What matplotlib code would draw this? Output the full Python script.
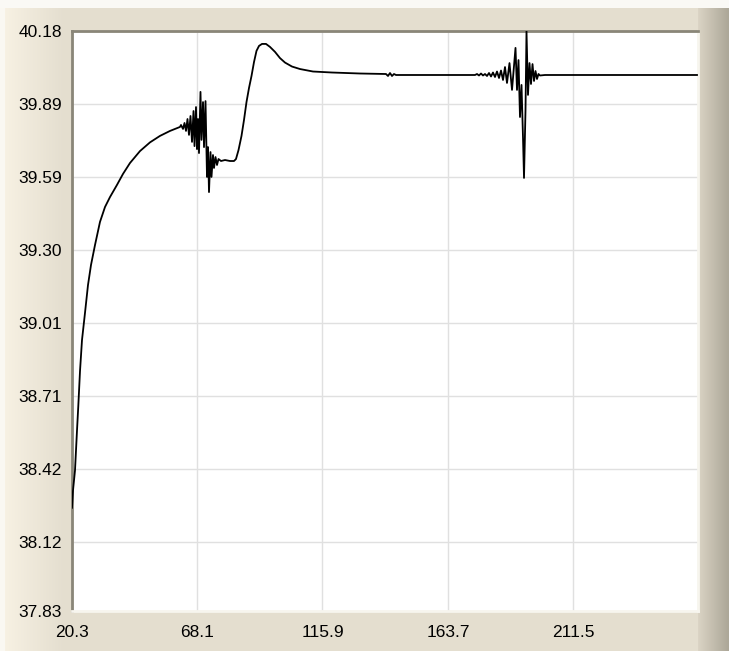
import numpy as np
import matplotlib
matplotlib.use('Agg')
import matplotlib.pyplot as plt


# values
time = [20.49, 20.87, 21.63, 22.39, 22.89, 23.54, 24.30, 25.44, 26.58, 27.73,
        29.25, 31.15, 33.06, 34.96, 37.63, 39.91, 42.58, 46.39, 50.20, 54.00,
        57.82, 61.62,
        62.01, 62.77, 63.34, 63.91, 64.48, 65.05, 65.62, 66.20, 66.77, 67.15,
        67.72, 68.10, 68.48, 68.86, 69.43, 69.81, 70.39, 70.77, 71.34, 71.91,
        72.29, 72.67, 73.24, 73.62, 74.19, 74.58, 75.15, 75.72, 76.29, 77.24,
        78.77, 80.67, 82.19,
        82.95, 83.91, 85.05, 86.00, 86.95, 87.91, 88.86, 89.81, 90.76, 91.72,
        92.86, 94.38, 95.90, 97.81, 99.71, 101.62, 104.28, 107.33, 112.28, 119.52,
        130.18, 140.09, 140.85, 141.61, 142.37, 143.13, 143.89, 153.04, 172.08,
        173.99, 174.75, 175.51, 176.27, 177.03, 177.79, 178.56, 179.32, 180.08, 180.84,
        181.60, 182.36, 183.13, 183.89, 184.65, 185.41, 186.17, 187.12, 188.08, 189.41,
        189.98, 190.55, 191.12, 191.70, 192.27, 192.65, 193.22, 193.60, 194.17, 194.74,
        195.31, 195.89, 196.46, 197.03, 197.60, 198.17, 198.74, 200.65, 258.54]

temp = [38.26, 38.33, 38.41, 38.57, 38.67, 38.81, 38.935, 39.044, 39.156, 39.237,
        39.317, 39.41, 39.47, 39.51, 39.559, 39.603, 39.647, 39.695, 39.73, 39.756,
        39.776, 39.792,
        39.800, 39.784, 39.808, 39.776, 39.824, 39.760, 39.836, 39.732, 39.856, 39.715,
        39.872, 39.703, 39.824, 39.687, 39.933, 39.740, 39.892, 39.711, 39.896, 39.591,
        39.711, 39.530, 39.691, 39.591, 39.679, 39.627, 39.671, 39.639, 39.663, 39.655,
        39.659, 39.655, 39.655,
        39.663, 39.699, 39.756, 39.820, 39.892, 39.949, 39.997, 40.053, 40.098, 40.118,
        40.126, 40.126, 40.114, 40.094, 40.069, 40.051, 40.035, 40.025, 40.015, 40.011,
        40.007, 40.005, 39.997, 40.009, 39.997, 40.005, 40.001, 40.001, 40.001,
        40.001, 40.005, 39.999, 40.007, 39.999, 40.005, 39.997, 40.009, 39.995, 40.011,
        39.993, 40.015, 39.989, 40.019, 39.981, 40.033, 39.969, 40.049, 39.941, 40.110,
        39.941, 40.061, 39.832, 39.961, 39.748, 39.587, 39.860, 40.178, 39.921, 40.049,
        39.965, 40.045, 39.977, 40.017, 39.985, 40.005, 39.999, 40.001, 40.001]

x_ticks = [20.3, 68.1, 115.9, 163.7, 211.5]
x_labels = ['20.3', '68.1', '115.9', '163.7', '211.5']
y_ticks = [37.846, 38.12375, 38.4175, 38.71125, 39.005, 39.29875, 39.5925, 39.88625, 40.18]
y_labels = ['37.83', '38.12', '38.42', '38.71', '39.01', '39.30', '39.59', '39.89', '40.18']

W, H = 729, 651
fig = plt.figure(figsize=(W / 100, H / 100), dpi=100)
fig.patch.set_facecolor('#e4decf')

# panel background: light left edge, darker right strip
bg = np.zeros((H, W, 3))
bg[:, :] = np.array([228, 222, 207]) / 255
left = np.linspace(0, 1, 60)[:, None]
bg[:, 5:65] = ((1 - left) * np.array([247, 241, 227]) + left * np.array([228, 222, 207])) / 255
bg[:, :5] = np.array([250, 248, 242]) / 255
right = np.linspace(0, 1, W - 698)[:, None]
bg[:, 698:] = ((1 - right) * np.array([218, 211, 196]) + right * np.array([172, 167, 152])) / 255
bg[:8, :] = np.array([250, 249, 245]) / 255
bax = fig.add_axes([0, 0, 1, 1], zorder=-1)
bax.imshow(bg, aspect='auto', extent=[0, W, H, 0])
bax.axis('off')

ax = fig.add_axes([71.5 / W, 1 - 610.7 / H, 626 / W, 580.2 / H])
ax.set_facecolor('white')
ax.plot(time, temp, color='black', lw=1.3, zorder=3)

ax.set_xlim(20.3, 258.73)
ax.set_ylim(37.846, 40.18)
ax.set_xticks(x_ticks)
ax.set_xticklabels(x_labels)
ax.set_yticks(y_ticks)
ax.set_yticklabels(y_labels)
ax.grid(True, color='#e0e0e0', lw=1.0)
ax.set_axisbelow(True)
ax.tick_params(length=0, labelsize=12.5)
ax.tick_params(axis='y', pad=7)
ax.tick_params(axis='x', pad=10)
for lbl in ax.get_xticklabels() + ax.get_yticklabels():
    lbl.set_fontfamily('Liberation Sans')
    lbl.set_color('black')

ax.spines['left'].set_color('#8a8678')
ax.spines['top'].set_color('#8a8678')
ax.spines['left'].set_linewidth(2)
ax.spines['top'].set_linewidth(2)
ax.spines['right'].set_color('#f7f5ee')
ax.spines['bottom'].set_color('#f7f5ee')
ax.spines['right'].set_linewidth(2)
ax.spines['bottom'].set_linewidth(2)

fig.savefig('out.png', dpi=100, facecolor=fig.get_facecolor())
